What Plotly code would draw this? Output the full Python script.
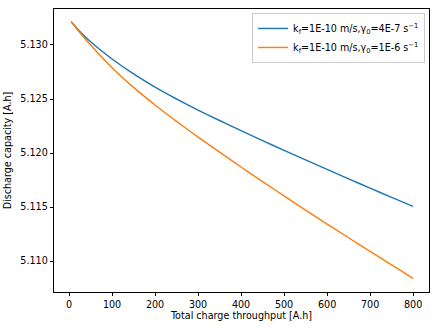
import plotly.graph_objects as go

throughput = [5, 25, 50, 100, 150, 200, 250, 300, 350, 400, 450, 500, 550, 600, 650, 700, 750, 800]
cap_gamma_4e7 = [5.13215, 5.13125, 5.13030, 5.12870, 5.12732, 5.12610, 5.12500, 5.12398, 5.12301,
                 5.12207, 5.12115, 5.12025, 5.11936, 5.11848, 5.11761, 5.11675, 5.11590, 5.11506]
cap_gamma_1e6 = [5.13215, 5.13115, 5.13000, 5.12790, 5.12608, 5.12445, 5.12293, 5.12148, 5.12008,
                 5.11871, 5.11736, 5.11603, 5.11472, 5.11343, 5.11216, 5.11090, 5.10965, 5.10841]
labels = ["k<sub>f</sub>=1E-10 m/s,γ<sub>0</sub>=4E-7 s<sup>−1</sup>",
          "k<sub>f</sub>=1E-10 m/s,γ<sub>0</sub>=1E-6 s<sup>−1</sup>"]
colors = ["#1f77b4", "#ff7f0e"]
x_ticks = [0, 100, 200, 300, 400, 500, 600, 700, 800]
y_ticks = [5.110, 5.115, 5.120, 5.125, 5.130]

fig = go.Figure()
for ys, name, c in zip([cap_gamma_4e7, cap_gamma_1e6], labels, colors):
    fig.add_trace(go.Scatter(x=throughput, y=ys, mode="lines", name=name,
                             line=dict(color=c, width=1.45, shape="spline", smoothing=0.5)))

font = dict(family="DejaVu Sans", size=9.6, color="#000000")
axis_common = dict(showline=True, mirror=True, linecolor="#000000", linewidth=0.8,
                   ticks="outside", ticklen=3.4, tickwidth=0.8, tickcolor="#000000",
                   showgrid=False, zeroline=False, tickfont=font)

fig.update_layout(
    width=442, height=334,
    margin=dict(l=47, r=13, t=8, b=42),
    paper_bgcolor="white", plot_bgcolor="white",
    font=font,
    showlegend=True,
    legend=dict(x=0.9895, y=0.986, xanchor="right", yanchor="top",
                bgcolor="rgba(255,255,255,0.8)", bordercolor="#cccccc", borderwidth=1,
                font=font, tracegroupgap=0, itemwidth=30),
    xaxis=dict(range=[-35, 837], tickvals=x_ticks, ticktext=[str(v) for v in x_ticks],
               title=dict(text="Total charge throughput [A.h]", font=font, standoff=1),
               **axis_common),
    yaxis=dict(range=[5.10714, 5.13333], tickvals=y_ticks, ticktext=[f"{v:.3f}" for v in y_ticks],
               title=dict(text="Discharge capacity [A.h]", font=font, standoff=6),
               **axis_common),
)

fig.write_html("out.html")
